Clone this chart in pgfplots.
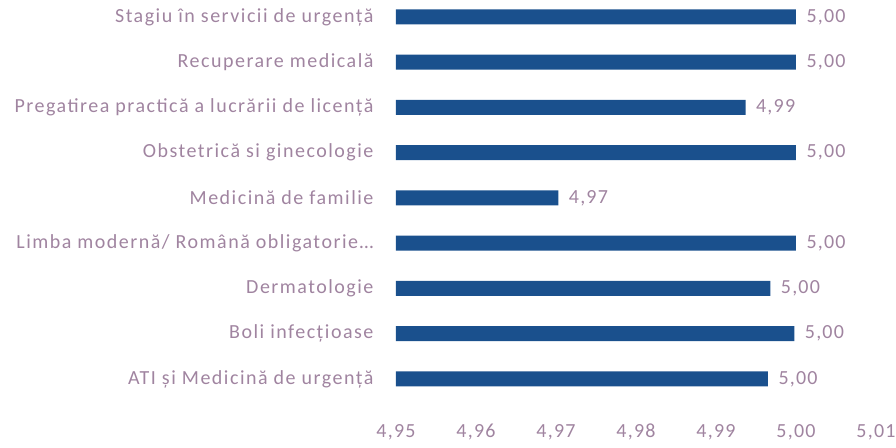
\documentclass[border=0pt]{standalone}
\usepackage{pgfplots}
\pgfplotsset{compat=1.18}
\usepackage{fontspec}
\setmainfont{Carlito}[LetterSpace=6]
\newfontfamily\lbl{Carlito}[LetterSpace=7.5]
\definecolor{txt}{RGB}{160,132,160}
\definecolor{bar}{RGB}{26,80,141}
\begin{document}
\begin{tikzpicture}
\path[use as bounding box] (-396pt,-45.4pt) rectangle (500pt,401.6pt);
\begin{axis}[
  scale only axis,
  width=480pt, height=407.25pt,
  xmin=4.95, xmax=5.01,
  ymin=-0.5, ymax=8.5,
  xbar, bar width=15pt,
  axis line style={draw=none},
  major tick length=0pt,
  xtick={4.95,4.96,4.97,4.98,4.99,5.00,5.01},
  ytick={0,1,2,3,4,5,6,7,8},
  yticklabels={{ATI și Medicină de urgență}, {Boli infecțioase}, {Dermatologie}, {Limba modernă/ Română obligatorie\ldots}, {Medicină de familie}, {Obstetrică si ginecologie}, {Pregatirea practică a lucrării de licență}, {Recuperare medicală}, {Stagiu în servicii de urgență}},
  /pgf/number format/.cd, fixed, fixed zerofill, precision=2, use comma, assume math mode=true,
  /pgfplots/.cd,
  scaled x ticks=false,
  ticklabel style={font=\fontsize{20}{24}\selectfont, text=txt},
  yticklabel style={font=\lbl\fontsize{20}{24}\selectfont, xshift=-19pt},
  xticklabel style={yshift=-19pt},
  nodes near coords,
  nodes near coords style={font=\fontsize{20}{24}\selectfont, text=txt, xshift=7pt},
  point meta=x,
]
\addplot[fill=bar, draw=none, bar shift=0pt] coordinates {
  (4.9965,0) (4.9998,1) (4.9968,2) (5.000,3) (4.9703,4) (5.000,5) (4.9937,6) (5.000,7) (5.000,8)
};
\end{axis}
\end{tikzpicture}
\end{document}
